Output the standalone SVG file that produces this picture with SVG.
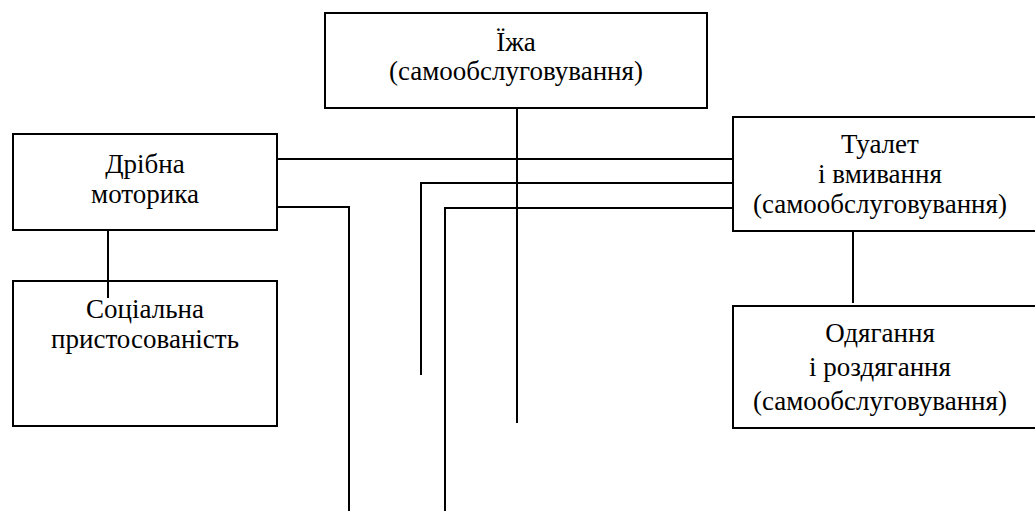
<svg xmlns="http://www.w3.org/2000/svg" width="1035" height="511" viewBox="0 0 1035 511">
<style>
.box{fill:#fff;stroke:#000;stroke-width:2}
.ln{fill:none;stroke:#000;stroke-width:2}
text{font-family:'Liberation Serif','DejaVu Serif',serif;font-size:27px;fill:#000;text-anchor:middle}
</style>
<rect width="1035" height="511" fill="#fff"/>
<g id="n-food"><rect class="box" x="325" y="13" width="382" height="95"/>
<text x="516" y="51">Їжа</text><text x="516" y="80">(самообслуговування)</text></g>
<g id="n-motor"><rect class="box" x="13" y="134" width="264" height="96"/>
<text x="145" y="173">Дрібна</text><text x="145" y="203">моторика</text></g>
<g id="n-social"><rect class="box" x="13" y="281" width="264" height="145"/>
<text x="145" y="318">Соціальна</text><text x="145" y="348">пристосованість</text></g>
<g id="n-toilet"><rect class="box" x="733" y="117" width="310" height="114"/>
<text x="880" y="153">Туалет</text><text x="880" y="183">і вмивання</text><text x="880" y="213">(самообслуговування)</text></g>
<g id="n-dress"><rect class="box" x="733" y="306" width="310" height="122"/>
<text x="880" y="342">Одягання</text><text x="880" y="376">і роздягання</text><text x="880" y="410">(самообслуговування)</text></g>
<g id="connectors">
<line class="ln" x1="517" y1="108" x2="517" y2="423"/>
<line class="ln" x1="277" y1="159" x2="733" y2="159"/>
<polyline class="ln" points="277,207 349,207 349,511"/>
<polyline class="ln" points="421,375 421,183 733,183"/>
<polyline class="ln" points="445,511 445,208 733,208"/>
<line class="ln" x1="108" y1="230" x2="108" y2="298"/>
<line class="ln" x1="853" y1="231" x2="853" y2="303"/>
</g>
</svg>
